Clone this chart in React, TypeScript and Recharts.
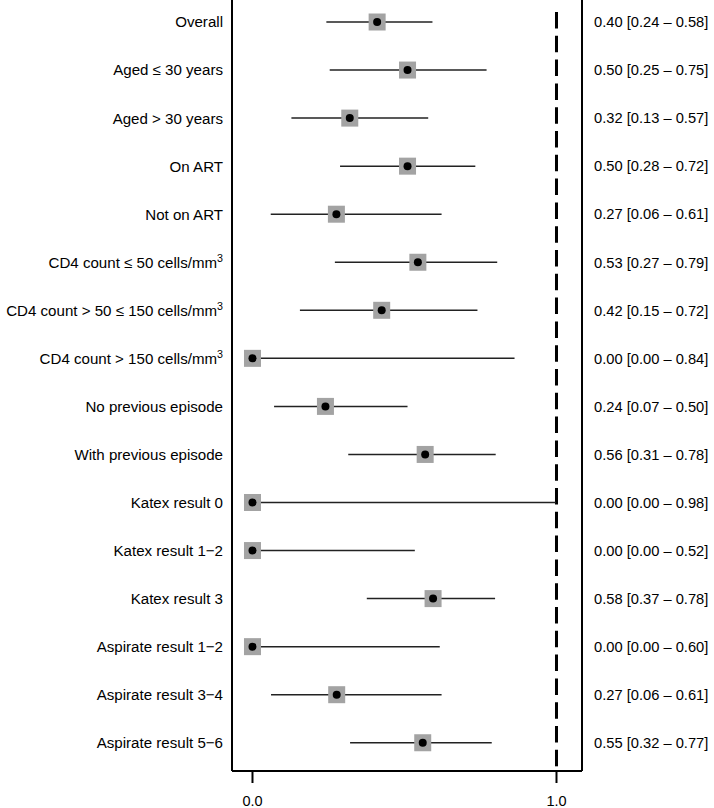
import React from "react";
import {
  ComposedChart,
  Scatter,
  XAxis,
  YAxis,
  ErrorBar,
  ReferenceLine,
} from "recharts";

// Row labels (top to bottom)
const labels: string[] = [
  "Overall",
  "Aged ≤ 30 years",
  "Aged > 30 years",
  "On ART",
  "Not on ART",
  "CD4 count ≤ 50 cells/mm",
  "CD4 count > 50 ≤ 150 cells/mm",
  "CD4 count > 150 cells/mm",
  "No previous episode",
  "With previous episode",
  "Katex result 0",
  "Katex result 1−2",
  "Katex result 3",
  "Aspirate result 1−2",
  "Aspirate result 3−4",
  "Aspirate result 5−6",
];
const superscripts: string[] = ["", "", "", "", "", "3", "3", "3", "", "", "", "", "", "", "", ""];

// Estimates and confidence limits as plotted
const estimates: number[] = [0.41, 0.51, 0.32, 0.51, 0.276, 0.544, 0.425, 0.0, 0.24, 0.568, 0.0, 0.0, 0.594, 0.0, 0.277, 0.56];
const lower: number[] = [0.243, 0.254, 0.128, 0.288, 0.06, 0.271, 0.156, 0.0, 0.071, 0.315, 0.0, 0.0, 0.376, 0.0, 0.061, 0.321];
const upper: number[] = [0.592, 0.77, 0.578, 0.733, 0.622, 0.805, 0.74, 0.862, 0.51, 0.8, 0.998, 0.534, 0.798, 0.616, 0.622, 0.787];

// Right-hand text
const ciText: string[] = [
  "0.40 [0.24 – 0.58]",
  "0.50 [0.25 – 0.75]",
  "0.32 [0.13 – 0.57]",
  "0.50 [0.28 – 0.72]",
  "0.27 [0.06 – 0.61]",
  "0.53 [0.27 – 0.79]",
  "0.42 [0.15 – 0.72]",
  "0.00 [0.00 – 0.84]",
  "0.24 [0.07 – 0.50]",
  "0.56 [0.31 – 0.78]",
  "0.00 [0.00 – 0.98]",
  "0.00 [0.00 – 0.52]",
  "0.58 [0.37 – 0.78]",
  "0.00 [0.00 – 0.60]",
  "0.27 [0.06 – 0.61]",
  "0.55 [0.32 – 0.77]",
];

const xTicks: number[] = [0, 1];
const xTickLabels: string[] = ["0.0", "1.0"];
const refValue = 1;

const X_DOMAIN: [number, number] = [-0.0674, 1.0839];
const Y_DOMAIN: [number, number] = [-0.458, 15.588];
const REF_TOP = -0.208;

const FONT = "'Liberation Sans', Arial, Helvetica, sans-serif";

const data = labels.map((_, i) => ({
  y: i,
  x: estimates[i],
  err: [estimates[i] - lower[i], upper[i] - estimates[i]],
}));
const rowTicks = labels.map((_, i) => i);

const LeftTick = (props: any) => {
  const { y, payload } = props;
  const i = payload.value as number;
  return (
    <text
      x={223}
      y={y}
      dy="0.36em"
      textAnchor="end"
      fontFamily={FONT}
      fontSize={15.1}
      fill="#000"
    >
      {labels[i]}
      {superscripts[i] ? (
        <tspan dy={-6} fontSize={10.7}>
          {superscripts[i]}
        </tspan>
      ) : null}
    </text>
  );
};

const RightTick = (props: any) => {
  const { y, payload } = props;
  const i = payload.value as number;
  return (
    <text
      x={594}
      y={y}
      dy="0.36em"
      textAnchor="start"
      fontFamily={FONT}
      fontSize={14.7}
      fill="#000"
    >
      {ciText[i]}
    </text>
  );
};

const BottomTick = (props: any) => {
  const { x, y, payload } = props;
  const idx = xTicks.indexOf(payload.value);
  return (
    <text
      x={x}
      y={y}
      dy="0.71em"
      textAnchor="middle"
      fontFamily={FONT}
      fontSize={14.5}
      fill="#000"
    >
      {xTickLabels[idx]}
    </text>
  );
};

const Marker = (props: any) => {
  const { cx, cy } = props;
  if (cx == null || cy == null) return null;
  return (
    <g>
      <rect x={cx - 8.5} y={cy - 8.5} width={17} height={17} fill="#a3a3a3" />
      <circle cx={cx} cy={cy} r={4} fill="#000" />
    </g>
  );
};

export default function App() {
  return (
    <div style={{ position: "absolute", left: 0, top: 0, width: 714, height: 808, background: "#fff" }}>
      <ComposedChart
        width={714}
        height={808}
        data={data}
        margin={{ top: 0, right: 0, bottom: 0, left: 0 }}
      >
        <XAxis
          type="number"
          dataKey="x"
          domain={X_DOMAIN}
          allowDataOverflow
          ticks={xTicks}
          interval={0}
          height={37}
          axisLine={{ stroke: "#000", strokeWidth: 2 }}
          tickLine={{ stroke: "#000", strokeWidth: 2 }}
          tickSize={12}
          tickMargin={13}
          tick={<BottomTick />}
        />
        <YAxis
          yAxisId="left"
          type="number"
          dataKey="y"
          orientation="left"
          domain={Y_DOMAIN}
          allowDataOverflow
          reversed
          ticks={rowTicks}
          interval={0}
          width={232}
          axisLine={{ stroke: "#000", strokeWidth: 2 }}
          tickLine={false}
          tick={<LeftTick />}
        />
        <YAxis
          yAxisId="right"
          type="number"
          orientation="right"
          domain={Y_DOMAIN}
          allowDataOverflow
          reversed
          ticks={rowTicks}
          interval={0}
          width={132}
          axisLine={{ stroke: "#000", strokeWidth: 2 }}
          tickLine={false}
          tick={<RightTick />}
        />
        <ReferenceLine
          yAxisId="left"
          segment={[
            { x: refValue, y: REF_TOP },
            { x: refValue, y: Y_DOMAIN[1] },
          ]}
          stroke="#000"
          strokeWidth={3}
          strokeDasharray="16.5 7.3"
          ifOverflow="visible"
        />
        <Scatter
          yAxisId="left"
          data={data}
          dataKey="y"
          shape={<Marker />}
          isAnimationActive={false}
        >
          <ErrorBar
            dataKey="err"
            direction="x"
            width={0}
            stroke="#222"
            strokeWidth={1.5}
            isAnimationActive={false}
          />
        </Scatter>
      </ComposedChart>
    </div>
  );
}
